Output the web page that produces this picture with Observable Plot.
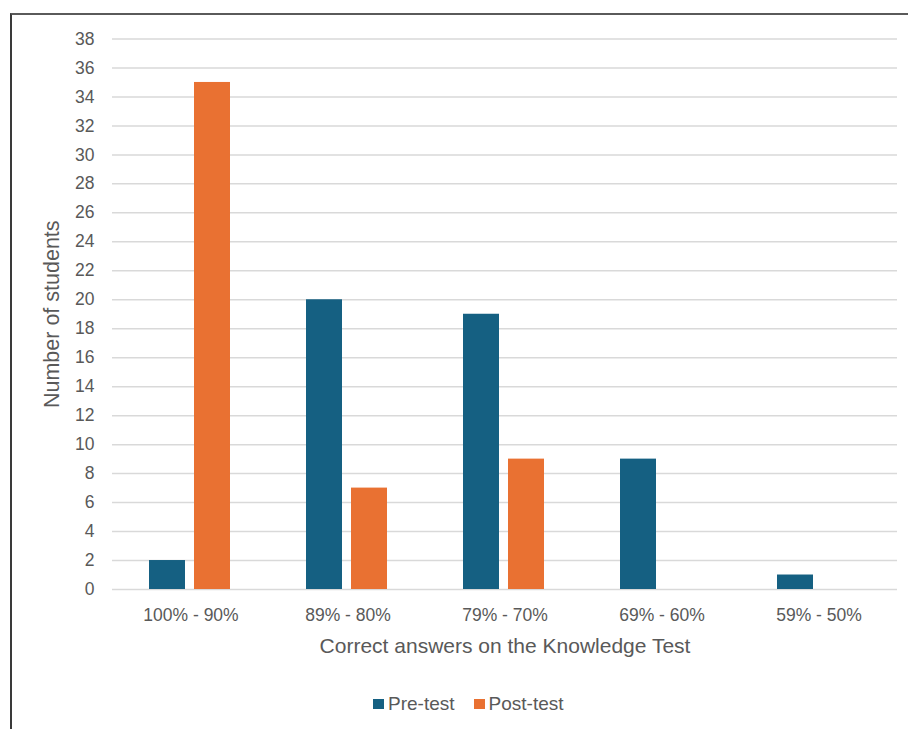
<!DOCTYPE html>
<html>
<head>
<meta charset="utf-8">
<script src="https://cdn.jsdelivr.net/npm/d3@7"></script>
<script src="https://cdn.jsdelivr.net/npm/@observablehq/plot@0.6"></script>
<style>
  html, body { margin: 0; padding: 0; background: #fff; width: 908px; height: 729px; overflow: hidden; }
  body { position: relative; font-family: "Liberation Sans", Arial, sans-serif; }
  #frame { position: absolute; left: 10px; top: 13px; width: 920px; height: 760px;
           border-top: 2px solid #5a5a5a; border-left: 2px solid #3a3a3a; box-sizing: border-box; }
  #chart { position: absolute; left: 0; top: 0; }
  #chart svg text { fill: #595959; }
  #chart g[aria-label="fx-axis label"] text { font-size: 21px; }
  #chart g[aria-label="y-axis label"] text { font-size: 21.5px; }
  #legend { position: absolute; left: 373px; top: 693px; display: flex; align-items: center;
            font-size: 19px; color: #595959; }
  .sw { width: 11px; height: 10px; display: inline-block; margin-right: 4px; }
  .item { display: flex; align-items: center; margin-right: 19px; }
</style>
</head>
<body>
<div id="frame"></div>
<div id="chart"></div>
<div id="legend"></div>
<script>
const categories = ["100% - 90%", "89% - 80%", "79% - 70%", "69% - 60%", "59% - 50%"];
const series = ["Pre-test", "Post-test"];
const preTest = [2, 20, 19, 9, 1];
const postTest = [35, 7, 9, 0, 0];
const colors = ["#156082", "#E97132"];
const yTicks = d3.range(0, 39, 2);

const data = [];
categories.forEach((c, i) => {
  data.push({category: c, series: "Pre-test", value: preTest[i]});
  data.push({category: c, series: "Post-test", value: postTest[i]});
});

const chart = Plot.plot({
  width: 908,
  height: 672,
  marginLeft: 110,
  marginRight: 10,
  marginTop: 38.5,
  marginBottom: 83,
  style: {fontFamily: "'Liberation Sans', Arial, sans-serif", fontSize: "17.5px", color: "#595959", background: "transparent"},
  fx: {domain: categories, padding: 0, label: "Correct answers on the Knowledge Test", labelAnchor: "center"},
  x: {domain: series, paddingInner: 0.21, paddingOuter: 0.84, axis: null},
  y: {domain: [0, 38], ticks: yTicks, label: "Number of students", labelAnchor: "center"},
  color: {domain: series, range: colors},
  marks: [
    Plot.ruleY(yTicks, {stroke: "#d9d9d9", strokeWidth: 1.5}),
    Plot.barY(data, {fx: "category", x: "series", y: "value", fill: "series", dx: -1}),
    Plot.axisY({ticks: yTicks, tickSize: 0, tickPadding: 18, label: "Number of students", labelAnchor: "center", labelOffset: 69, labelArrow: "none"}),
    Plot.axisFx({anchor: "bottom", tickSize: 0, tickPadding: 19, label: "Correct answers on the Knowledge Test", labelAnchor: "center", labelOffset: 63, labelArrow: "none"})
  ]
});
document.getElementById("chart").appendChild(chart);

const legend = document.getElementById("legend");
series.forEach((s, i) => {
  const item = document.createElement("span");
  item.className = "item";
  const sw = document.createElement("span");
  sw.className = "sw";
  sw.style.background = colors[i];
  item.appendChild(sw);
  item.appendChild(document.createTextNode(s));
  legend.appendChild(item);
});
</script>
</body>
</html>
